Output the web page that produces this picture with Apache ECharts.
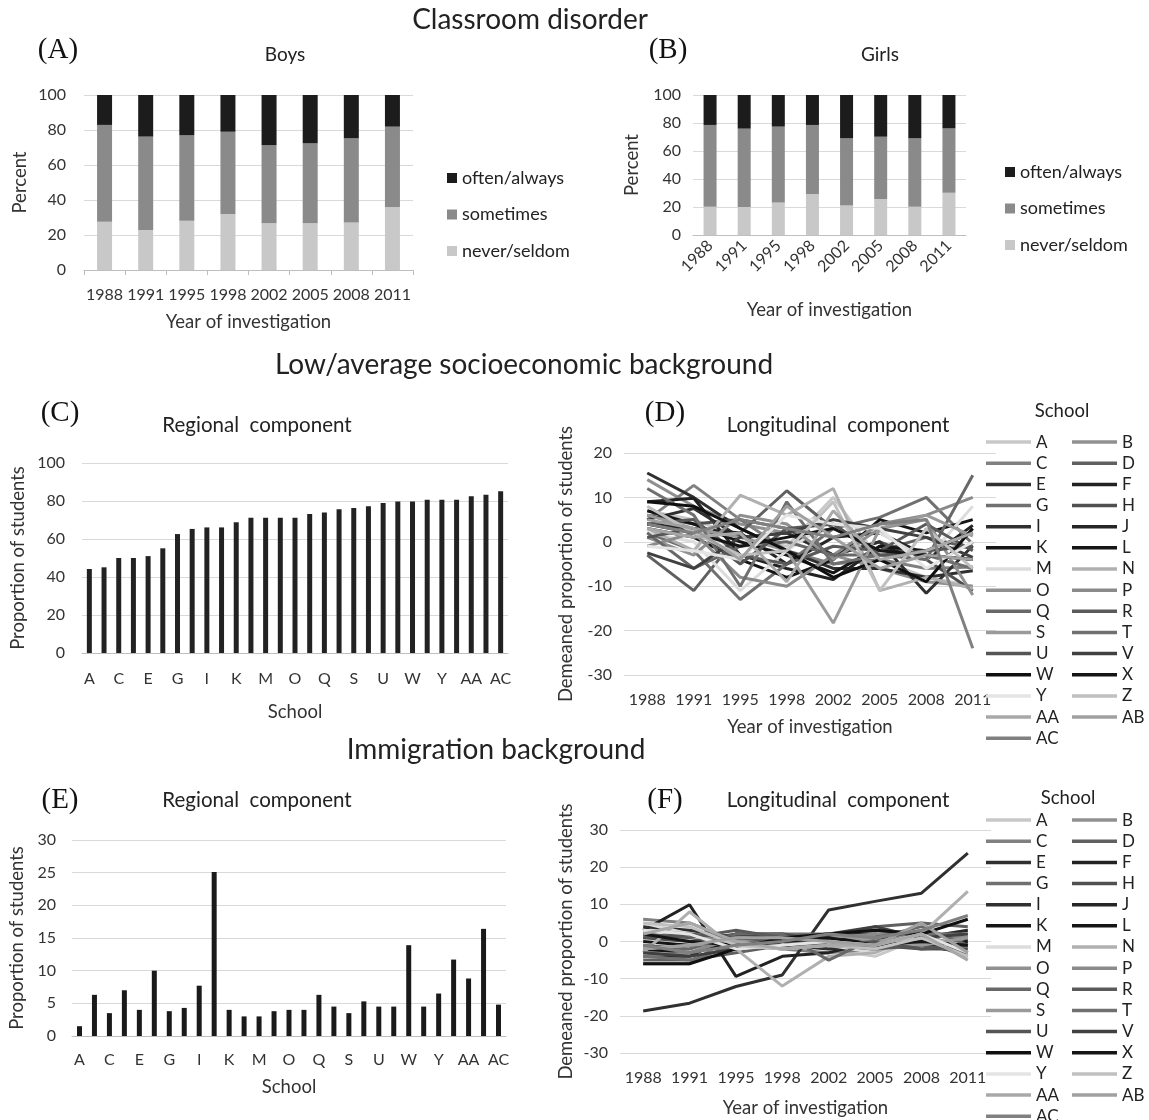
<!DOCTYPE html>
<html><head><meta charset="utf-8">
<script src="https://cdn.jsdelivr.net/npm/echarts@6/dist/echarts.min.js"></script>
<style>html,body{margin:0;padding:0;background:#fff}#c{width:1149px;height:1120px}</style>
</head><body><div id="c"></div>
<script>
// ---------- data ----------
const years = ['1988','1991','1995','1998','2002','2005','2008','2011'];
const stackNames = ['never/seldom','sometimes','often/always'];
const boysNever     = [27.6,22.9,28.2,32.0,26.7,26.7,27.2,35.8];
const boysSometimes = [55.3,53.3,48.9,47.0,44.7,45.7,48.0,46.1];
const boysOften     = [17.1,23.8,22.9,21.0,28.6,27.6,24.8,18.1];
const girlsNever     = [20.2,20.0,23.3,29.3,21.0,25.7,20.2,30.2];
const girlsSometimes = [58.4,56.0,54.1,49.3,48.0,44.5,48.8,46.0];
const girlsOften     = [21.4,24.0,22.6,21.4,31.0,29.8,31.0,23.8];
const schools = ['A','B','C','D','E','F','G','H','I','J','K','L','M','N','O','P','Q','R','S','T','U','V','W','X','Y','Z','AA','AB','AC'];
const regionalLow = [44.2,45.1,50,50,51,55.1,62.6,65.3,66.1,66.1,68.8,71.2,71.2,71.2,71.2,73.2,73.9,75.6,76.3,77.2,78.9,79.8,79.8,80.7,80.7,80.7,82.5,83.3,85.1];
const regionalImm = [1.5,6.3,3.5,7.0,4.0,10,3.8,4.3,7.7,25.1,4.0,3.0,3.0,3.8,4.0,4.0,6.3,4.5,3.5,5.3,4.5,4.5,13.9,4.5,6.5,11.7,8.8,16.4,4.8];
// longitudinal components, one row per school (A..AC), one value per year
const longLow = [
  [7,5,1,-1,10,-4,-8,-10],
  [14,8,4,2,-3,-6,-9,-10],
  [5,12.7,5,-2,-5,-4,-6,-5.7],
  [-3,-11,2,11.5,3,-2,1,-1.5],
  [15.5,10,3,-2,-6,-6,-8,-6.5],
  [9,9.8,-3,-6,-8.5,-1,-4,3.7],
  [2,-2,-13,-5,3,5.5,10,-0.5],
  [6,4,5,3,-3,0,-4,-11],
  [5,7.5,1,2,-3,0,-11.6,-0.9],
  [4,3,2,-5,1,2,-3,-4],
  [3,1,-4,-8,-4,5,2,5],
  [7,4,0,-3,-7,-1,-2,2],
  [2,0,-11,-2,5,2,-4,8],
  [3,-2,10.5,6,12,-11,-8,-10.5],
  [1,-3,6,4,-4,3,5,-12],
  [-1,2,-8,-10,-3,4,6,10],
  [2,-6,-1,0,-3,-3,-4,15],
  [4,5,-3,-5,-1,-2,4,-2],
  [6,3,1,-2,-18.3,3,6,1.3],
  [12,6,-10,9,-5,-3,-3,-6],
  [1,3,-5,3,4,-3,-2,-1],
  [-2.5,-6,1,2,5,3,1,-3.5],
  [9,8,3,-2,-8,-4,-9,3],
  [4,2,-1,1,3,-2,-3,-4],
  [-1,-2,-4,6,4,3,-6,0],
  [8,2,-3,-2,9,-11,3,-6],
  [3,1,2,-9,7,-4,-2,2],
  [5,3,-4,8,1,-6,-3,-4],
  [4,2,5,3,1,4,5,-24]
];
const longImm = [
  [2,1,-1,0,-2,-4,1,3],
  [-3,-2,1,2,1,1,2,-2],
  [6,5,0,-2,-3,-2,0,-4],
  [-5,-5,-3,-1,1,4,5,4],
  [-18.7,-16.6,-12.1,-9,8.5,10.8,13,23.8],
  [3,9.9,-9.4,-4,-3,0,3,0.5],
  [-6,-6,2,2,2,3,2,1],
  [1,0,2,2,0,-1,-2,-2],
  [4,3,1,-1,-2,-1,-1,-3],
  [-4,-4,2,1,1,0,1,3],
  [0,-1,0,1,1,0,-1,0],
  [-2,-3,0,1,2,2,1,-1],
  [5,2,-1,-2,-1,-3,1,-1],
  [-3,8,-2,-12,-4,-3,2,13.5],
  [3,2,-1,-2,-1,0,2,-3],
  [-4,-3,1,0,1,2,2,1],
  [-1,-2,2,2,-5,1,4,-1],
  [2,1,3,1,-1,-2,-1,-3],
  [-2,-1,0,1,2,0,-1,1],
  [-4,-5,-1,1,2,3,2,2],
  [1,2,1,0,-1,0,-2,-1],
  [-3,-4,-2,0,2,4,1,2],
  [-6,-6,-2,1,2,3,2,6],
  [2,0,-1,0,1,-1,0,-1],
  [3,2,-2,-1,0,-1,2,-3],
  [5,4,-1,-2,-1,-2,1,-4],
  [2,5,0,-2,-1,-1,2,-5],
  [-2,-1,1,1,0,-1,5,-3],
  [-1,-3,-1,0,2,1,3,7]
];
// ---------- style ----------
const schoolColors = ['#c8c8c8','#909090','#808080','#606060','#303030','#222222','#707070','#505050','#303030','#262626','#151515','#151515','#dcdcdc','#b0b0b0','#909090','#8a8a8a','#686868','#5a5a5a','#9a9a9a','#707070','#555555','#404040','#101010','#151515','#e4e4e4','#c0c0c0','#a8a8a8','#a0a0a0','#808080'];
const stackColors = ['#c8c8c8','#8a8a8a','#1c1c1c'];
const FONT = 'Lato, "Open Sans", sans-serif';
const TXT = '#333';
const GRID_LINE = '#d9d9d9';
const TICK = 16, NAME = 18.5;

const chart = echarts.init(document.getElementById('c'), null, {renderer:'canvas'});

function txt(text, x, y, size, family, color){
  return {text, left:x, top:y, padding:0, textAlign:'center', textVerticalAlign:'middle',
    textStyle:{fontSize:size, fontFamily:family||FONT, fontWeight:'normal', color:color||'#222'}};
}
const SERIF = '"Liberation Serif","DejaVu Serif",serif';
const titles = [
  txt('Classroom disorder',530,20,28),
  txt('Low/average socioeconomic background',524,365,28),
  txt('Immigration background',496,750,28),
  txt('(A)',58,50,29,SERIF,'#111'), txt('(B)',668,50,29,SERIF,'#111'),
  txt('(C)',60,413,29,SERIF,'#111'), txt('(D)',665,413,29,SERIF,'#111'),
  txt('(E)',60,800,29,SERIF,'#111'), txt('(F)',665,800,29,SERIF,'#111'),
  txt('Boys',285,55,19), txt('Girls',880,55,19),
  txt('Regional  component',257,425,20.5), txt('Longitudinal  component',838,425,20.5),
  txt('Regional  component',257,800,20.5), txt('Longitudinal  component',838,800,20.5),
  txt('School',1062,411,18.5), txt('School',1068,798,18.5)
];

const grids = [
  {left:84, top:95, width:329, height:175},
  {left:693, top:95, width:273, height:140},
  {left:82, top:463, width:426, height:190},
  {left:624, top:453, width:372, height:222},
  {left:72, top:840, width:434, height:196},
  {left:620, top:830, width:371, height:223}
];

function lab(margin, extra){
  return Object.assign({interval:0, fontSize:TICK, color:TXT, fontFamily:FONT, margin}, extra||{});
}
function xCat(gi, data, extra){
  return Object.assign({
    gridIndex:gi, type:'category', data,
    axisLine:{show:true, lineStyle:{color:'#bfbfbf'}},
    axisTick:{show:false},
    nameLocation:'middle', nameTextStyle:{fontSize:NAME, color:TXT, fontFamily:FONT}
  }, extra);
}
function yVal(gi, min, max, interval, name, gap, margin){
  return {gridIndex:gi, type:'value', min, max, interval, name, nameLocation:'middle', nameGap:gap,
    nameTextStyle:{fontSize:NAME, color:TXT, fontFamily:FONT},
    axisLine:{show:false}, axisTick:{show:false},
    axisLabel:{fontSize:TICK, color:TXT, fontFamily:FONT, margin},
    splitLine:{show:true, lineStyle:{color:GRID_LINE, width:1}}};
}

const xAxes = [
  xCat(0, years, {name:'Year of investigation', nameGap:43, axisTick:{show:true, length:5, lineStyle:{color:'#bfbfbf'}}, axisLabel:lab(17)}),
  xCat(1, years, {name:'Year of investigation', nameGap:66, axisLabel:lab(8, {rotate:45})}),
  xCat(2, schools, {name:'School', nameGap:50, axisLabel:lab(18, {interval:1})}),
  xCat(3, years, {name:'Year of investigation', nameGap:43, axisLine:{show:false}, axisLabel:lab(17)}),
  xCat(4, schools, {name:'School', nameGap:42, axisLabel:lab(16, {interval:1})}),
  xCat(5, years, {name:'Year of investigation', nameGap:46, axisLine:{show:false}, axisLabel:lab(17)})
];
const yAxes = [
  yVal(0, 0, 100, 20, 'Percent', 54, 18),
  yVal(1, 0, 100, 20, 'Percent', 51, 12),
  yVal(2, 0, 100, 20, 'Proportion of students', 54, 17),
  yVal(3, -30, 20, 10, 'Demeaned proportion of students', 48, 12),
  yVal(4, 0, 30, 5, 'Proportion of students', 45, 16),
  yVal(5, -30, 30, 10, 'Demeaned proportion of students', 44, 12)
];

const series = [];
[[boysNever,boysSometimes,boysOften,0,15],[girlsNever,girlsSometimes,girlsOften,1,13]].forEach(([n,s,o,gi,bw])=>{
  [n,s,o].forEach((d,k)=>{
    series.push({type:'bar', name:stackNames[k], stack:'st'+gi, xAxisIndex:gi, yAxisIndex:gi,
      data:d, barWidth:bw, itemStyle:{color:stackColors[k]}});
  });
});
series.push({type:'bar', name:'regional low SES', xAxisIndex:2, yAxisIndex:2, data:regionalLow, barWidth:5, itemStyle:{color:'#222'}});
series.push({type:'bar', name:'regional immigration', xAxisIndex:4, yAxisIndex:4, data:regionalImm, barWidth:5, itemStyle:{color:'#1a1a1a'}});
[[longLow,3],[longImm,5]].forEach(([rows,gi])=>{
  rows.forEach((row,i)=>{
    series.push({type:'line', name:schools[i], xAxisIndex:gi, yAxisIndex:gi, data:row,
      symbol:'none', color:schoolColors[i],
      lineStyle:{width:3, color:schoolColors[i]}, itemStyle:{color:schoolColors[i]}});
  });
});

function schoolLegend(left, top, parity){
  return {orient:'vertical', left, top, height:420, padding:0, itemGap:0, itemWidth:45, itemHeight:3.5, icon:'rect',
    selectedMode:false,
    data:schools.map((s,i)=>({name:s, itemStyle:{color:schoolColors[i]}})).filter((d,i)=>i%2===parity),
    textStyle:{fontSize:17, lineHeight:21.15, color:'#222', fontFamily:FONT}};
}
function stackLegend(left, top){
  return {orient:'vertical', left, top, padding:0, itemGap:18.5, itemWidth:10, itemHeight:10, icon:'rect', selectedMode:false,
   data:['often/always','sometimes','never/seldom'], textStyle:{fontSize:18, lineHeight:18, color:'#222', fontFamily:FONT}};
}
const legends = [
  stackLegend(447, 169), stackLegend(1005, 163),
  schoolLegend(986, 431.5, 0), schoolLegend(1072, 431.5, 1),
  schoolLegend(986, 809.5, 0), schoolLegend(1072, 809.5, 1)
];

chart.setOption({
  animation:false,
  backgroundColor:'#fff',
  title:titles,
  grid:grids,
  xAxis:xAxes,
  yAxis:yAxes,
  legend:legends,
  series
});
</script></body></html>
